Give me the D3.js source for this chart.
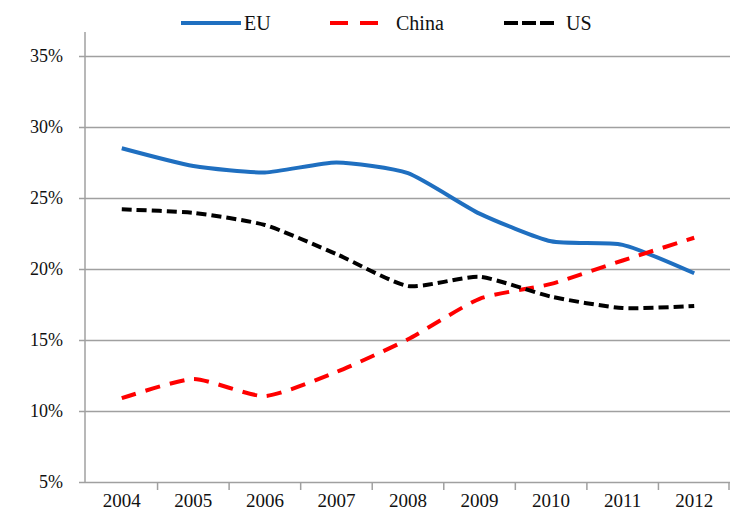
<!DOCTYPE html>
<html lang="en">
<head>
    <meta charset="UTF-8">
    <title>EU China US</title>
    <script src="https://d3js.org/d3.v7.min.js"></script>
    <style>
        body { margin: 0; background: #fff; }
        text { font-family: "Liberation Serif", "Times New Roman", serif; fill: #111; }
    </style>
</head>
<body>
    <svg width="730" height="521"></svg>
    <script>
        const years = ['2004', '2005', '2006', '2007', '2008', '2009', '2010', '2011', '2012'];
        const euValues = [28.5, 27.25, 26.8, 27.5, 26.75, 23.9, 21.95, 21.7, 19.7];
        const chinaValues = [10.9, 12.25, 11.05, 12.75, 15.05, 17.9, 18.95, 20.6, 22.2];
        const usValues = [24.2, 23.95, 23.1, 21.05, 18.8, 19.45, 18.05, 17.25, 17.4];
        const yTicks = [5, 10, 15, 20, 25, 30, 35];

        const svg = d3.select('svg');

        const xScale = d3.scaleBand()
                        .domain(years)
                        .range([86, 730])
        const yScale = d3.scaleLinear()
                        .domain([5, 35])
                        .range([482, 56])

        // gridlines + y labels
        const yAxis = d3.axisLeft(yScale)
                        .tickValues(yTicks)
                        .tickSize(-(730 - 79))
                        .tickPadding(16)
                        .tickFormat(d => d + '%');
        const gy = svg.append('g').attr('transform', 'translate(79, 0)').call(yAxis);
        gy.select('.domain').remove();
        gy.selectAll('.tick line').attr('stroke', '#a0a0a0').attr('stroke-width', 1.5);
        gy.selectAll('.tick text').attr('font-size', 18).attr('fill', '#111');

        // y axis line
        svg.append('line')
            .attr('x1', 85).attr('x2', 85)
            .attr('y1', 32).attr('y2', yScale(5))
            .attr('stroke', '#a0a0a0').attr('stroke-width', 1.5);

        // x labels
        const xAxis = d3.axisBottom(xScale).tickSize(0).tickPadding(12);
        const gx = svg.append('g').attr('transform', `translate(0, ${yScale(5)})`).call(xAxis);
        gx.select('.domain').remove();
        gx.selectAll('.tick text').attr('font-size', 19).attr('fill', '#111');

        // category boundary ticks
        const bounds = years.slice(1).map(d => xScale(d)).concat([xScale.range()[1] - 1]);
        svg.selectAll('.xtick')
            .data(bounds)
            .enter()
            .append('line')
            .attr('x1', d => d).attr('x2', d => d)
            .attr('y1', yScale(5)).attr('y2', yScale(5) + 8)
            .attr('stroke', '#a0a0a0').attr('stroke-width', 1.5);

        // smoothed like the excel lines, a bit less curvy than catmull-rom
        const line = d3.line()
                        .x((d, i) => xScale(years[i]) + xScale.bandwidth() / 2)
                        .y(d => yScale(d))
                        .curve(d3.curveCardinal.tension(0.4));

        const series = [
            { name: 'EU', values: euValues, color: '#1f6fc0', dash: null },
            { name: 'China', values: chinaValues, color: '#ff0000', dash: '15,10' },
            { name: 'US', values: usValues, color: '#000000', dash: '10,5' }
        ];

        series.forEach(s => {
            svg.append('path')
                .attr('d', line(s.values))
                .attr('fill', 'none')
                .attr('stroke', s.color)
                .attr('stroke-width', 4)
                .attr('stroke-dasharray', s.dash);
        });

        // legend
        const legendPos = [
            { x1: 181, x2: 241, tx: 244 },
            { x1: 330, x2: 383, tx: 396 },
            { x1: 504, x2: 556, tx: 566 }
        ];
        series.forEach((s, i) => {
            const p = legendPos[i];
            svg.append('line')
                .attr('x1', p.x1).attr('x2', p.x2)
                .attr('y1', 23).attr('y2', 23)
                .attr('stroke', s.color)
                .attr('stroke-width', 4)
                .attr('stroke-dasharray', i === 1 ? '18,12' : (i === 2 ? '14,4' : null));
            svg.append('text')
                .attr('x', p.tx).attr('y', 23)
                .attr('dy', '0.35em')
                .attr('font-size', 20)
                .text(s.name);
        });
    </script>
</body>
</html>
